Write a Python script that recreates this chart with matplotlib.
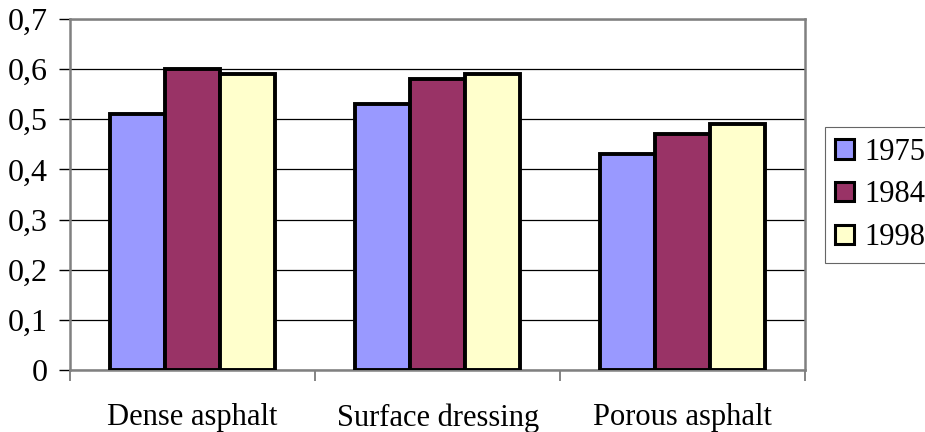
import numpy as np
import matplotlib.pyplot as plt

# Datos
categorias = ['Dense asphalt', 'Surface dressing', 'Porous asphalt']
anios = ['1975', '1984', '1998']
v1975 = [0.51, 0.53, 0.43]
v1984 = [0.60, 0.58, 0.47]
v1998 = [0.59, 0.59, 0.49]
colores = ['#9999FF', '#993366', '#FFFFCC']

plt.rcParams['font.family'] = ['Liberation Serif', 'DejaVu Serif']

fig = plt.figure(figsize=(9.25, 4.32), dpi=100)
ax = fig.add_axes([0.0757, 0.1435, 0.795, 0.8125])

x = np.arange(len(categorias))
ancho = 0.224
for i, (serie, color) in enumerate(zip([v1975, v1984, v1998], colores)):
    ax.bar(x + (i - 1) * ancho, serie, ancho, color=color, edgecolor='black',
           linewidth=2.8, label=anios[i], zorder=3)

ax.set_xlim(-0.5, 2.5)
ax.set_ylim(0, 0.7)
ax.set_yticks(np.arange(0, 0.71, 0.1))
ax.set_yticklabels(['0'] + [f'0,{k}' for k in range(1, 8)], fontsize=23)
ax.yaxis.grid(True, color='black', linewidth=0.9, zorder=0)

ax.set_xticks(x)
ax.set_xticklabels(categorias, fontsize=22)
ax.tick_params(axis='x', which='major', length=0, pad=24)
ax.set_xticks([-0.5, 0.5, 1.5, 2.5], minor=True)
ax.tick_params(axis='x', which='minor', length=8, width=1.2, color='#707070', direction='out')
ax.tick_params(axis='y', length=8, width=1.0, color='black', direction='out', pad=8)

for s in ax.spines.values():
    s.set_color('#808080')
    s.set_linewidth(1.8)

leg = fig.legend(loc='upper right', bbox_to_anchor=(1.012, 0.706), fontsize=22,
                 frameon=True, fancybox=False, edgecolor='#404040',
                 handlelength=0.6, handleheight=0.6, handletextpad=0.35,
                 borderpad=0.35, labelspacing=0.45, borderaxespad=0.0)
leg.get_frame().set_linewidth(0.8)
for h in leg.legend_handles:
    h.set_linewidth(2.2)

fig.savefig('out.png', dpi=100)
